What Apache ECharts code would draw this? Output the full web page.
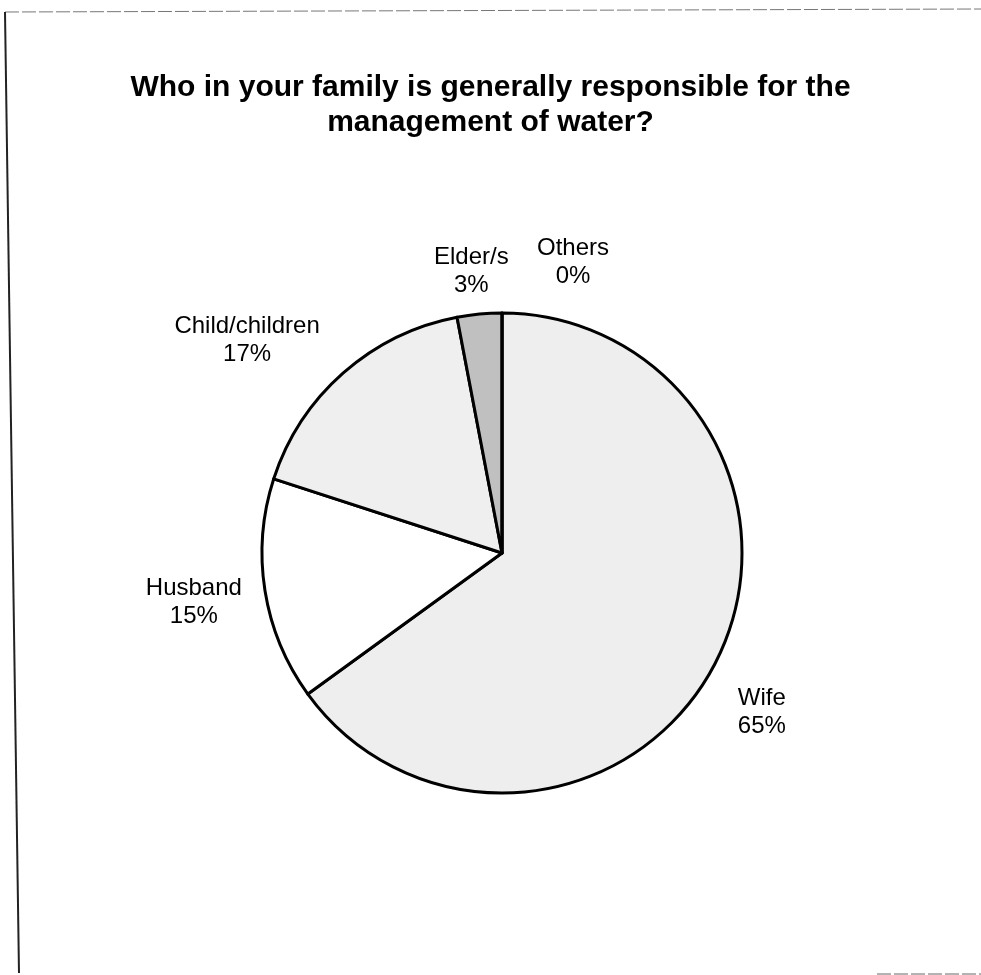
<!DOCTYPE html>
<html><head><meta charset="utf-8">
<script src="https://cdn.jsdelivr.net/npm/echarts@6/dist/echarts.min.js"></script>
<style>html,body{margin:0;padding:0;background:#fff}#c{width:981px;height:975px}</style>
</head><body><div id="c"></div>
<script>
const titleText = 'Who in your family is generally responsible for the\nmanagement of water?';
const categories = ['Wife', 'Husband', 'Child/children', 'Elder/s', 'Others'];
const values = [65, 15, 17, 3, 0];
const fills = ['#eeeeee', '#ffffff', '#efefef', '#c0c0c0', '#e0e0e0'];
const labelLengths = [64, 72, 88, 43, 51];
const labelShiftX = [-11, 0, -38, -4, 71];
const labelShiftY = [21, 1, 33, 0, 0];

const chart = echarts.init(document.getElementById('c'), null, {renderer: 'canvas'});
const data = categories.map((name, i) => ({
  name: name,
  value: values[i],
  itemStyle: {color: fills[i]},
  labelLine: {length: labelLengths[i], length2: 0, show: false}
}));
chart.setOption({
  backgroundColor: '#ffffff',
  animation: false,
  title: {
    text: titleText,
    left: 'center',
    top: 65,
    textStyle: {
      fontFamily: 'Liberation Sans, Arial, sans-serif',
      fontWeight: 'bold',
      fontSize: 30,
      lineHeight: 35,
      color: '#000'
    }
  },
  graphic: [
    {type: 'line', shape: {x1: 5, y1: 12, x2: 981, y2: 9}, style: {stroke: '#777', lineWidth: 1, lineDash: [14, 3]}},
    {type: 'line', shape: {x1: 5, y1: 12, x2: 19, y2: 973}, style: {stroke: '#222', lineWidth: 2}},
    {type: 'line', shape: {x1: 877, y1: 974, x2: 981, y2: 974}, style: {stroke: '#666', lineWidth: 1, lineDash: [14, 3]}}
  ],
  series: [{
    type: 'pie',
    center: [502, 553],
    radius: 240,
    startAngle: 90,
    clockwise: true,
    avoidLabelOverlap: false,
    percentPrecision: 0,
    minShowLabelAngle: 0,
    stillShowZeroSum: true,
    itemStyle: {borderColor: '#000', borderWidth: 3},
    emphasis: {disabled: true},
    label: {
      show: true,
      position: 'outside',
      distanceToLabelLine: 0,
      formatter: '{b}\n{d}%',
      fontFamily: 'Liberation Sans, Arial, sans-serif',
      fontSize: 24,
      lineHeight: 28,
      color: '#000'
    },
    labelLayout: function (p) {
      return {align: 'center', verticalAlign: 'middle', dx: labelShiftX[p.dataIndex], dy: labelShiftY[p.dataIndex]};
    },
    data: data
  }]
});
</script>
</body></html>
